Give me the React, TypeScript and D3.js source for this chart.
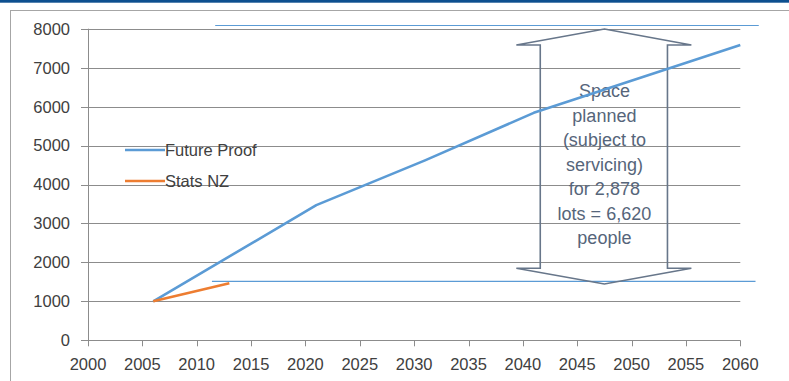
import React from "react";
import * as d3 from "d3";

const futureYears = [2006, 2021, 2031, 2041, 2060];
const futureValues = [1000, 3470, 4620, 5840, 7580];
const statsYears = [2006, 2013];
const statsValues = [1000, 1465];
const yTicks = [0, 1000, 2000, 3000, 4000, 5000, 6000, 7000, 8000];
const xTicks = [2000, 2005, 2010, 2015, 2020, 2025, 2030, 2035, 2040, 2045, 2050, 2055, 2060];
const legendLabels = ["Future Proof", "Stats NZ"];
const annotationLines = [
  "Space",
  "planned",
  "(subject to",
  "servicing)",
  "for 2,878",
  "lots = 6,620",
  "people",
];
// reference levels (thin blue lines)
const refTop = { y: 8082, x0: 2011.7, x1: 2061.7 };
const refBottom = { y: 1515, x0: 2011.4, x1: 2061.4 };
// double arrow geometry in data units
const arrowCenter = 2047.5;
const arrowWingL = 2039.4;
const arrowWingR = 2055.5;
const arrowShaftL = 2041.6;
const arrowShaftR = 2053.3;
const arrowTop = 7993;
const arrowTopShoulder = 7581;
const arrowBottomShoulder = 1849;
const arrowBottom = 1445;

const W = 789;
const H = 381;

export default function App() {
  const x = d3.scaleLinear().domain([2000, 2060]).range([88, 740.3]);
  const y = d3.scaleLinear().domain([0, 8000]).range([340.3, 28.7]);
  const line = d3
    .line<[number, number]>()
    .x((d) => x(d[0]))
    .y((d) => y(d[1]));
  const future = futureYears.map((yr, i) => [yr, futureValues[i]] as [number, number]);
  const stats = statsYears.map((yr, i) => [yr, statsValues[i]] as [number, number]);
  const arrowPts: [number, number][] = [
    [arrowCenter, arrowTop],
    [arrowWingR, arrowTopShoulder],
    [arrowShaftR, arrowTopShoulder],
    [arrowShaftR, arrowBottomShoulder],
    [arrowWingR, arrowBottomShoulder],
    [arrowCenter, arrowBottom],
    [arrowWingL, arrowBottomShoulder],
    [arrowShaftL, arrowBottomShoulder],
    [arrowShaftL, arrowTopShoulder],
    [arrowWingL, arrowTopShoulder],
  ];
  const arrowPath = line(arrowPts) + "Z";
  const font = "'Liberation Sans', Arial, sans-serif";
  const gridColor = "#8c8c8c";
  const textColor = "#404040";
  const annColor = "#56657a";
  const textTop = 90.7;
  const textStep = 24.55;
  const textX = x(arrowCenter);

  return (
    <svg
      width={W}
      height={H}
      style={{ position: "absolute", left: 0, top: 0, background: "#fff" }}
      fontFamily={font}
    >
      <rect x={0} y={0} width={W} height={2.7} fill="#0d4f8f" />
      <rect x={10.5} y={10.5} width={W + 10} height={H + 10} fill="none" stroke="#a6a6a6" strokeWidth={1} />
      {/* gridlines */}
      {yTicks.map((t) => (
        <line key={"g" + t} x1={x(2000) - 7} x2={x(2060)} y1={Math.round(y(t)) + 0.5} y2={Math.round(y(t)) + 0.5} stroke={gridColor} strokeWidth={1} />
      ))}
      {/* y axis */}
      <line x1={x(2000) + 0.5} x2={x(2000) + 0.5} y1={y(8000)} y2={y(0)} stroke={gridColor} strokeWidth={1} />
      {/* x ticks */}
      {xTicks.map((t) => (
        <line key={"xt" + t} x1={Math.round(x(t)) + 0.5} x2={Math.round(x(t)) + 0.5} y1={y(0)} y2={y(0) + 6} stroke={gridColor} strokeWidth={1} />
      ))}
      {yTicks.map((t) => (
        <text key={"yl" + t} x={70} y={y(t)} dy="0.36em" textAnchor="end" fontSize={16.5} fill={textColor}>
          {t}
        </text>
      ))}
      {xTicks.map((t) => (
        <text key={"xl" + t} x={x(t)} y={364.5} dy="0.36em" textAnchor="middle" fontSize={16.5} fill={textColor}>
          {t}
        </text>
      ))}
      {/* reference lines */}
      <line x1={x(refTop.x0)} x2={x(refTop.x1)} y1={y(refTop.y)} y2={y(refTop.y)} stroke="#5b9bd5" strokeWidth={1.2} />
      <line x1={x(refBottom.x0)} x2={x(refBottom.x1)} y1={y(refBottom.y)} y2={y(refBottom.y)} stroke="#5b9bd5" strokeWidth={1.2} />
      {/* arrow */}
      <path d={arrowPath} fill="none" stroke="#67768a" strokeWidth={1.6} strokeLinejoin="miter" />
      {annotationLines.map((s, i) => (
        <text key={"a" + i} x={textX} y={textTop + i * textStep} dy="0.35em" textAnchor="middle" fontSize={18} fill={annColor}>
          {s}
        </text>
      ))}
      {/* series */}
      <path d={line(future) || ""} fill="none" stroke="#5b9bd5" strokeWidth={2.6} strokeLinejoin="round" />
      <path d={line(stats) || ""} fill="none" stroke="#ed7d31" strokeWidth={2.6} strokeLinejoin="round" />
      {/* legend */}
      {legendLabels.map((lab, i) => (
        <g key={lab} transform={`translate(0, ${150 + i * 31})`}>
          <line x1={125} x2={165} y1={0} y2={0} stroke={i === 0 ? "#5b9bd5" : "#ed7d31"} strokeWidth={2.6} />
          <text x={165} y={0} dy="0.36em" fontSize={16.5} fill={textColor}>
            {lab}
          </text>
        </g>
      ))}
    </svg>
  );
}
